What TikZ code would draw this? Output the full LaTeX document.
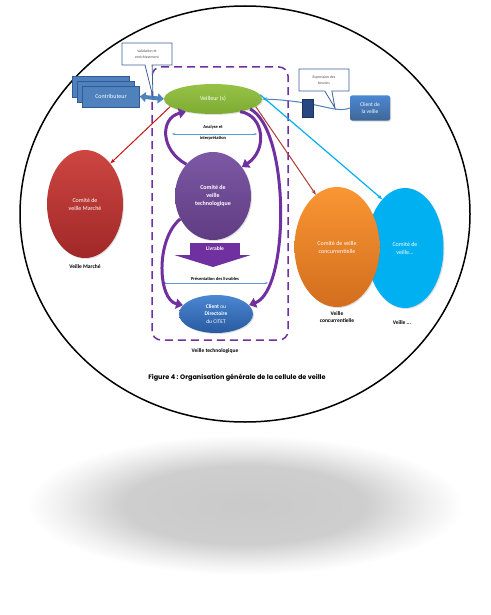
\documentclass[tikz,border=0pt]{standalone}
\usepackage{fontspec}
\setmainfont{Carlito}
\newfontfamily\capfont{Poppins}
\usetikzlibrary{shapes.geometric,shapes.callouts,arrows.meta,positioning,calc,shadows}
\definecolor{veilgreen}{RGB}{150,195,70}
\definecolor{veilgreendk}{RGB}{125,170,50}
\definecolor{marchered}{RGB}{205,70,65}
\definecolor{marchereddk}{RGB}{160,40,40}
\definecolor{techpurple}{RGB}{125,88,165}
\definecolor{techpurpledk}{RGB}{95,60,130}
\definecolor{livrpurple}{RGB}{112,48,160}
\definecolor{citetblue}{RGB}{75,135,210}
\definecolor{citetbluedk}{RGB}{40,90,160}
\definecolor{contribblue}{RGB}{79,129,189}
\definecolor{contribdark}{RGB}{50,90,150}
\definecolor{callblue}{RGB}{60,95,150}
\definecolor{docnavy}{RGB}{40,70,130}
\definecolor{concurorange}{RGB}{250,150,50}
\definecolor{concurorangedk}{RGB}{210,110,30}
\definecolor{autrecyan}{RGB}{0,176,240}
\definecolor{lightblue}{RGB}{91,155,213}
\definecolor{flecherouge}{RGB}{200,20,20}
\definecolor{flechebrun}{RGB}{170,60,50}
\pgfdeclareradialshading{ombre}{\pgfpoint{0cm}{0cm}}{color(0bp)=(black!21); color(14bp)=(black!19); color(21bp)=(black!6); color(25bp)=(white); color(50bp)=(white)}

\begin{document}
\begin{tikzpicture}[x=1pt,y=-1pt,
comite/.style={ellipse, draw=none, text=white, align=center, font=\fontsize{6}{8}\selectfont, drop shadow={shadow xshift=1pt, shadow yshift=-1pt, opacity=0.25}},
boite/.style={rectangle, draw=contribdark, fill=contribblue, text=white, minimum width=57pt, minimum height=21pt, font=\fontsize{6}{7}\selectfont},
callbox/.style={rectangle callout, draw=callblue, fill=white, line width=0.8pt, align=center, minimum width=50pt, minimum height=22pt, font=\fontsize{3.8}{5.5}\selectfont, text=black!70},
lbl/.style={font=\bfseries\fontsize{5.5}{7.5}\selectfont, align=center, inner sep=1pt},
parc/.style={line width=3pt, draw=livrpurple, -{Triangle[length=7pt,width=10pt]}},
bleu/.style={draw=lightblue, line width=0.7pt, {Stealth[length=3pt]}-{Stealth[length=3pt]}}]

\useasboundingbox (0,0) rectangle (490,615);

% ombre et cadre
\shade[shading=ombre] (245,505) ellipse [x radius=218pt, y radius=70pt];
\draw[line width=1.5pt, fill=white] (245,214) ellipse [x radius=225pt, y radius=208pt];

% veille technologique
\draw[livrpurple, line width=1.5pt, dash pattern=on 8pt off 5pt, rounded corners=9pt] (152,67) rectangle (288,340);

\node[comite, top color=veilgreen, bottom color=veilgreendk, minimum width=98pt, minimum height=30pt] (veilleur) at (213,99) {Veilleur (s)};

\node[comite, top color=techpurple, bottom color=techpurpledk, minimum width=76pt, minimum height=88pt, font=\bfseries\fontsize{6}{8}\selectfont] (techno) at (213,196) {Comité de\\veille\\technologique};

\node[rectangle, fill=livrpurple, text=white, minimum width=50pt, minimum height=12pt, inner sep=0pt, font=\bfseries\fontsize{5.5}{6}\selectfont] (livrable) at (215,249) {Livrable};
\fill[livrpurple] ($(livrable.south west)+(-15,0)$) -- ($(livrable.south east)+(10,0)$) -- (213,267) -- cycle;

\node[comite, top color=citetblue, bottom color=citetbluedk, minimum width=74pt, minimum height=38pt, font=\fontsize{5.5}{7.5}\selectfont] (citet) at (216,314) {\textbf{Client} ou\\\textbf{Directoire}\\du CITET};

\node[lbl, font=\bfseries\fontsize{4.5}{11}\selectfont] (analyse) at (213,133) {Analyse et\\interprétation};
\coordinate (aG) at (172,134);
\coordinate (aD) at (257,134);
\draw[bleu] (aG) -- (aD);

\node[lbl, font=\bfseries\fontsize{4.5}{5}\selectfont] (presentation) at (215,279) {Présentation des livrables};
\coordinate (pG) at (163,283);
\coordinate (pD) at (268,283);
\draw[bleu] (pG) -- (pD);

\node[lbl] (ltechno) at (215,351) {Veille technologique};

% contributeurs
\node[boite] (contrib3) at (101,87) {};
\node[boite] (contrib2) at (106,91.5) {};
\node[boite] (contrib) at (111,96.5) {Contributeur};
\draw[line width=4pt, contribblue, {Triangle[length=6pt,width=10pt]}-{Triangle[length=6pt,width=10pt]}] (contrib.east) -- (veilleur.west);
\node[callbox, callout absolute pointer={(153,97)}] (valid) at (147,54) {Validation et\\enrichissement};

% client de la veille
\node[rectangle, rounded corners=2pt, top color=citetblue, bottom color=contribblue!80!black, text=white, minimum width=40pt, minimum height=25pt, align=center, font=\fontsize{5.5}{7}\selectfont, drop shadow={shadow xshift=1pt, shadow yshift=-1pt, opacity=0.3}] (client) at (370,108) {Client de\\la veille};
\draw[contribblue, line width=1pt, -{Stealth[length=5pt]}] (client.west) .. controls (335,114) and (320,101) .. (veilleur.east);
\node[rectangle, fill=docnavy, draw=docnavy!70!black, minimum width=11pt, minimum height=18pt, inner sep=0pt] (doc) at (308,108) {};
\node[callbox, callout absolute pointer={(335,108)}] (expr) at (324,80) {Expression des\\besoins};

% autres veilles
\node[comite, top color=marchered, bottom color=marchereddk, minimum width=76pt, minimum height=108pt] (marche) at (85,204) {Comité de\\veille Marché};
\node[lbl, below=5pt of marche] (lmarche) {Veille Marché};

\node[comite, fill=autrecyan, minimum width=77pt, minimum height=120pt] (autre) at (405,248) {Comité de\\veille...};
\node[comite, top color=concurorange, bottom color=concurorangedk, minimum width=85pt, minimum height=120pt] (concur) at (337,247) {Comité de veille\\concurrentielle};
\node[lbl, below=3pt of concur] (lconcur) {Veille\\concurrentielle};
\node[lbl] (lautre) at (402,323) {Veille ...};

% fleches
\draw[flecherouge, line width=1pt, -{Stealth[length=5pt]}] (veilleur.190) -- (marche.58);
\draw[flechebrun, line width=1pt, -{Stealth[length=5pt]}] (veilleur.350) -- (concur.112);
\draw[autrecyan, line width=1.2pt, -{Stealth[length=5pt]}] (veilleur.5) -- (autre.115);

\draw[parc] (techno.130) .. controls (160,150) and (160,118) .. (veilleur.205);
\draw[parc] (veilleur.335) .. controls (264,115) and (268,150) .. (techno.45);
\draw[parc] (veilleur.345) .. controls (290,130) and (290,290) .. (citet.15);
\draw[parc] (techno.215) .. controls (155,240) and (158,300) .. (citet.165);

\node[font=\capfont\bfseries\fontsize{6.5}{7}\selectfont] (caption) at (237,378) {Figure 4 : Organisation générale de la cellule de veille};

\end{tikzpicture}
\end{document}
